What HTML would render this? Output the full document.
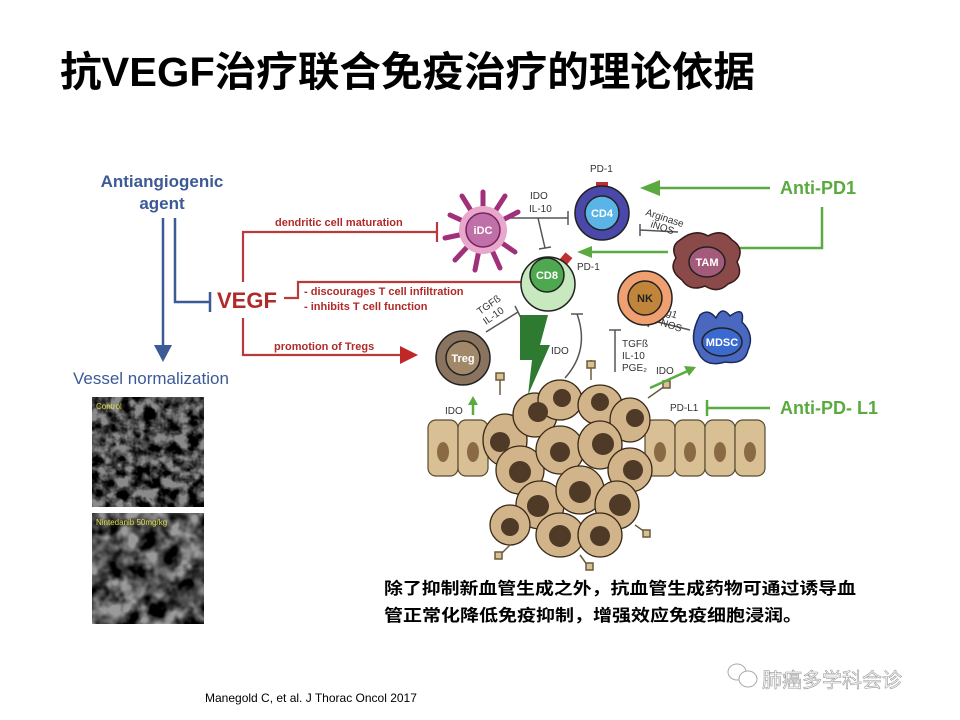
<!DOCTYPE html>
<html><head><meta charset="utf-8"><style>
html,body{margin:0;padding:0;background:#fff;}
svg{display:block;font-family:"Liberation Sans","Noto Sans CJK SC",sans-serif;}
</style></head><body>
<svg width="960" height="720" viewBox="0 0 960 720" xmlns="http://www.w3.org/2000/svg">
<defs>
<filter id="tex1" x="0" y="0" width="100%" height="100%">
<feTurbulence type="fractalNoise" baseFrequency="0.09" numOctaves="3" seed="3"/>
<feColorMatrix type="matrix" values="0 0 0 0 0  0 0 0 0 0  0 0 0 0 0  1.6 1.6 1.6 0 -1.9"/>
<feComposite in2="SourceGraphic" operator="in"/>
</filter>
<filter id="tex2" x="0" y="0" width="100%" height="100%">
<feTurbulence type="fractalNoise" baseFrequency="0.05" numOctaves="3" seed="7"/>
<feColorMatrix type="matrix" values="0 0 0 0 0  0 0 0 0 0  0 0 0 0 0  1.6 1.6 1.6 0 -1.9"/>
<feComposite in2="SourceGraphic" operator="in"/>
</filter>
</defs>
<rect width="960" height="720" fill="#fff"/>
<text x="60" y="86" font-size="41" font-weight="bold" fill="#000" textLength="695" lengthAdjust="spacingAndGlyphs">抗VEGF治疗联合免疫治疗的理论依据</text>

<g fill="#3c5a96" font-weight="bold" font-size="17" text-anchor="middle">
<text x="162" y="187">Antiangiogenic</text><text x="162" y="209">agent</text></g>
<g stroke="#3c5a96" stroke-width="2.5" fill="none">
<line x1="163" y1="218" x2="163" y2="348"/>
<polyline points="175,218 175,302 210,302"/><line x1="210" y1="292" x2="210" y2="312"/></g>
<polygon points="154,345 172,345 163,362" fill="#3c5a96"/>
<text x="73" y="384" font-size="17" fill="#3c5a96">Vessel normalization</text>
<rect x="92" y="397" width="112" height="110" fill="#8a8a8a"/>
<rect x="92" y="397" width="112" height="110" fill="#303030" filter="url(#tex1)"/>
<text x="96" y="409" font-size="8" fill="#dddd44">Control</text>
<rect x="92" y="513" width="112" height="111" fill="#9a9a9a"/>
<rect x="92" y="513" width="112" height="111" fill="#3a3a3a" filter="url(#tex2)"/>
<text x="96" y="525" font-size="8" fill="#dddd44">Nintedanib 50mg/kg</text>

<text x="217" y="308" font-size="22" font-weight="bold" fill="#b02a2a">VEGF</text>
<g stroke="#b83a3a" stroke-width="2.2" fill="none">
<polyline points="243,282 243,232 437,232"/><line x1="437" y1="222" x2="437" y2="242"/>
<polyline points="284,298 298,298 298,282 523,282"/><line x1="523" y1="273" x2="523" y2="291"/>
<polyline points="243,318 243,355 402,355"/></g>
<polygon points="400,346 418,355 400,364" fill="#c02828"/>
<g fill="#b02a2a" font-size="11" font-weight="bold">
<text x="275" y="226">dendritic cell maturation</text>
<text x="304" y="295">- discourages T cell infiltration</text>
<text x="304" y="310">- inhibits T cell function</text>
<text x="274" y="350">promotion of Tregs</text></g>

<g stroke="#5a4a30" stroke-width="1.2" fill="#d9bf94">
<rect x="428" y="420" width="30" height="56" rx="8"/><rect x="458" y="420" width="30" height="56" rx="8"/>
<rect x="645" y="420" width="30" height="56" rx="8"/><rect x="675" y="420" width="30" height="56" rx="8"/>
<rect x="705" y="420" width="30" height="56" rx="8"/><rect x="735" y="420" width="30" height="56" rx="8"/></g>
<g fill="#8a6a44"><ellipse cx="443" cy="452" rx="6" ry="10"/><ellipse cx="473" cy="452" rx="6" ry="10"/><ellipse cx="660" cy="452" rx="6" ry="10"/><ellipse cx="690" cy="452" rx="6" ry="10"/><ellipse cx="720" cy="452" rx="6" ry="10"/><ellipse cx="750" cy="452" rx="6" ry="10"/></g>
<g stroke="#3a2a18" stroke-width="1.3" fill="#d2b48a">
<ellipse cx="505" cy="440" rx="22" ry="26"/><ellipse cx="535" cy="415" rx="22" ry="22"/><ellipse cx="560" cy="400" rx="22" ry="20"/>
<ellipse cx="600" cy="405" rx="22" ry="20"/><ellipse cx="630" cy="420" rx="20" ry="22"/><ellipse cx="520" cy="470" rx="24" ry="24"/>
<ellipse cx="560" cy="450" rx="24" ry="24"/><ellipse cx="600" cy="445" rx="22" ry="24"/><ellipse cx="630" cy="470" rx="22" ry="22"/>
<ellipse cx="540" cy="505" rx="24" ry="24"/><ellipse cx="580" cy="490" rx="24" ry="24"/><ellipse cx="617" cy="505" rx="22" ry="24"/>
<ellipse cx="560" cy="535" rx="24" ry="22"/><ellipse cx="600" cy="535" rx="22" ry="22"/><ellipse cx="510" cy="525" rx="20" ry="20"/></g>
<g fill="#4e3a26">
<circle cx="500" cy="442" r="10"/><circle cx="538" cy="412" r="10"/><circle cx="562" cy="398" r="9"/><circle cx="600" cy="402" r="9"/>
<circle cx="635" cy="418" r="9"/><circle cx="520" cy="472" r="11"/><circle cx="560" cy="452" r="10"/><circle cx="603" cy="444" r="11"/>
<circle cx="633" cy="470" r="10"/><circle cx="538" cy="506" r="11"/><circle cx="580" cy="492" r="11"/><circle cx="620" cy="505" r="11"/>
<circle cx="560" cy="536" r="11"/><circle cx="600" cy="536" r="10"/><circle cx="510" cy="527" r="9"/></g>
<g stroke="#6a5a3a" stroke-width="1.5" fill="#d9bf94">
<line x1="500" y1="378" x2="500" y2="395"/><rect x="496" y="373" width="8" height="7"/>
<line x1="591" y1="360" x2="591" y2="380"/><rect x="587" y="361" width="8" height="7"/>
<line x1="648" y1="398" x2="665" y2="386"/><rect x="663" y="381" width="7" height="7"/>
<line x1="510" y1="545" x2="500" y2="555"/><rect x="495" y="552" width="7" height="7"/>
<line x1="580" y1="555" x2="588" y2="566"/><rect x="586" y="563" width="7" height="7"/>
<line x1="635" y1="525" x2="645" y2="532"/><rect x="643" y="530" width="7" height="7"/></g>

<polygon points="520,315 548,315 540,345 550,345 528,395 532,360 520,360" fill="#2e7a30"/>

<g stroke="#555" stroke-width="1.5" fill="none">
<line x1="510" y1="218" x2="568" y2="218"/><line x1="568" y1="211" x2="568" y2="225"/>
<line x1="538" y1="218" x2="545" y2="248"/><line x1="539" y1="249" x2="551" y2="247"/>
<line x1="678" y1="232" x2="640" y2="230"/><line x1="640" y1="224" x2="640" y2="236"/>
<line x1="486" y1="332" x2="518" y2="312"/><line x1="515" y1="306" x2="521" y2="318"/>
<path d="M565 378 Q590 350 577 314"/><line x1="571" y1="314" x2="583" y2="314"/>
<line x1="615" y1="372" x2="615" y2="330"/><line x1="609" y1="330" x2="621" y2="330"/>
<line x1="690" y1="330" x2="650" y2="320"/><line x1="652" y1="313" x2="648" y2="327"/></g>
<g font-size="10" fill="#333">
<text x="530" y="199">IDO</text><text x="529" y="212">IL-10</text>
<text x="645" y="215" transform="rotate(18 645 215)">Arginase</text><text x="650" y="227" transform="rotate(18 650 227)">iNOS</text>
<text x="480" y="315" transform="rotate(-35 480 315)">TGFß</text><text x="486" y="325" transform="rotate(-35 486 325)">IL-10</text>
<text x="551" y="354">IDO</text>
<text x="622" y="347">TGFß</text><text x="622" y="359">IL-10</text><text x="622" y="371">PGE₂</text>
<text x="656" y="312" transform="rotate(18 656 312)">Arg1</text><text x="650" y="322" transform="rotate(18 650 322)">R-NOS</text>
<text x="656" y="374">IDO</text><text x="445" y="414">IDO</text><text x="670" y="411">PD-L1</text>
<text x="590" y="172">PD-1</text><text x="577" y="270">PD-1</text></g>

<g stroke="#5aaa40" stroke-width="2.5" fill="none">
<line x1="770" y1="188" x2="655" y2="188"/>
<polyline points="822,207 822,248 740,248"/>
<line x1="668" y1="252" x2="590" y2="252"/>
<line x1="770" y1="408" x2="708" y2="408"/><line x1="707" y1="400" x2="707" y2="416"/>
<line x1="650" y1="388" x2="690" y2="370"/>
<line x1="473" y1="415" x2="473" y2="400"/></g>
<polygon points="640,188 660,180 660,196" fill="#5aaa40"/>
<polygon points="577,252 592,246 592,258" fill="#5aaa40"/>
<polygon points="696,367 684,366 689,376" fill="#5aaa40"/>
<polygon points="473,396 468,405 478,405" fill="#5aaa40"/>
<g fill="#5aaa40" font-size="18" font-weight="bold">
<text x="780" y="194">Anti-PD1</text><text x="780" y="414">Anti-PD- L1</text></g>

<g stroke="#a0307a" stroke-width="5" stroke-linecap="round">
<line x1="483" y1="230" x2="483" y2="192"/><line x1="483" y1="230" x2="462" y2="196"/><line x1="483" y1="230" x2="505" y2="196"/>
<line x1="483" y1="230" x2="450" y2="215"/><line x1="483" y1="230" x2="445" y2="238"/><line x1="483" y1="230" x2="455" y2="260"/>
<line x1="483" y1="230" x2="475" y2="270"/><line x1="483" y1="230" x2="500" y2="268"/><line x1="483" y1="230" x2="515" y2="252"/>
<line x1="483" y1="230" x2="518" y2="212"/></g>
<circle cx="483" cy="230" r="24" fill="#e8a8cc"/>
<circle cx="483" cy="230" r="17" fill="#c070a8" stroke="#7a2060" stroke-width="1.5"/>
<rect x="596" y="182" width="12" height="8" fill="#c03030"/>
<circle cx="602" cy="213" r="27" fill="#4a48a8" stroke="#222" stroke-width="1.5"/>
<circle cx="602" cy="213" r="17" fill="#5ab4e6" stroke="#222" stroke-width="1.5"/>
<rect x="562" y="254" width="9" height="9" fill="#c03030" transform="rotate(40 566 258)"/>
<circle cx="548" cy="284" r="27" fill="#c8e8c0" stroke="#222" stroke-width="1.5"/>
<circle cx="547" cy="275" r="17" fill="#4ea850" stroke="#222" stroke-width="1.5"/>
<circle cx="645" cy="298" r="27" fill="#f0a070" stroke="#222" stroke-width="1.5"/>
<circle cx="645" cy="298" r="17" fill="#c0843a" stroke="#222" stroke-width="1.5"/>
<circle cx="463" cy="358" r="27" fill="#8a7460" stroke="#222" stroke-width="1.5"/>
<circle cx="463" cy="358" r="17" fill="#a08868" stroke="#222" stroke-width="1.5"/>
<path d="M680 240 Q695 228 708 236 Q722 228 732 240 Q745 248 737 262 Q745 278 728 284 Q718 294 705 286 Q690 292 682 280 Q668 270 676 258 Q670 246 680 240Z" fill="#8a4a4a" stroke="#3a1a1a" stroke-width="1.5"/>
<ellipse cx="707" cy="262" rx="18" ry="15" fill="#a45a7a" stroke="#222" stroke-width="1.5"/>
<path d="M700 315 Q708 308 716 318 Q722 305 730 316 Q745 305 742 322 Q755 335 748 350 Q745 365 725 362 Q705 368 698 352 Q688 338 700 315Z" fill="#4a68c0" stroke="#1a2a5a" stroke-width="1.5"/>
<ellipse cx="722" cy="342" rx="20" ry="14" fill="#3a6ad0" stroke="#222" stroke-width="1.5"/>
<g fill="#fff" font-size="11" font-weight="bold" text-anchor="middle">
<text x="483" y="234">iDC</text><text x="602" y="217">CD4</text><text x="547" y="279">CD8</text>
<text x="707" y="266">TAM</text><text x="722" y="346">MDSC</text><text x="463" y="362">Treg</text></g>
<text x="645" y="302" font-size="11" font-weight="bold" text-anchor="middle" fill="#222">NK</text>

<g font-size="16.5" font-weight="bold" fill="#000">
<text x="384" y="594" textLength="472" lengthAdjust="spacingAndGlyphs">除了抑制新血管生成之外，抗血管生成药物可通过诱导血</text>
<text x="384" y="621" textLength="418" lengthAdjust="spacingAndGlyphs">管正常化降低免疫抑制，增强效应免疫细胞浸润。</text></g>
<text x="205" y="702" font-size="12" fill="#000">Manegold C, et al. J Thorac Oncol 2017</text>
<g fill="none" stroke="#aaa" stroke-width="1"><ellipse cx="737" cy="672" rx="9" ry="8"/><ellipse cx="748" cy="679" rx="9" ry="8" fill="#fff"/></g>
<text x="762" y="687" font-size="20" fill="#fff" stroke="#999" stroke-width="0.6">肺癌多学科会诊</text>
</svg>
</body></html>
